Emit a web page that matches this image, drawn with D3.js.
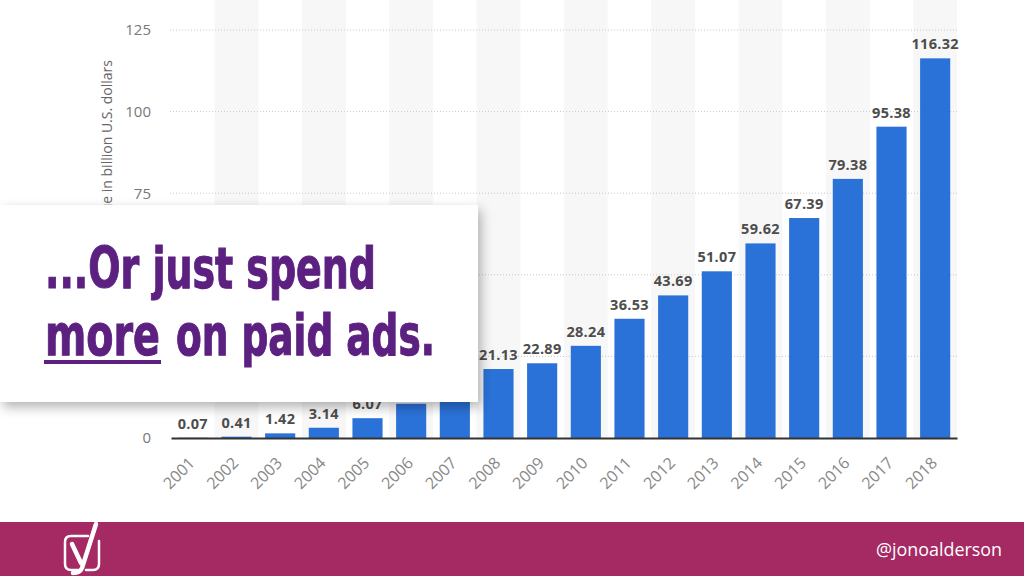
<!DOCTYPE html>
<html>
<head>
<meta charset="utf-8">
<script src="https://cdn.jsdelivr.net/npm/d3@7"></script>
<style>
  html, body { margin: 0; padding: 0; background: #fff; }
  svg { display: block; }
</style>
</head>
<body>
<div id="chart"></div>
<script>
// revenue per year, billion US dollars
var years = ["2001","2002","2003","2004","2005","2006","2007","2008","2009",
             "2010","2011","2012","2013","2014","2015","2016","2017","2018"];
var revenue = [0.07, 0.41, 1.42, 3.14, 6.07, 10.49, 16.41, 21.13, 22.89,
               28.24, 36.53, 43.69, 51.07, 59.62, 67.39, 79.38, 95.38, 116.32];
var yTicks = [0, 25, 50, 75, 100, 125];
var yTitle = "Revenue in billion U.S. dollars";
var headline1 = "...Or just spend";
var headline2a = "more";
var headline2b = "on paid ads.";
var handle = "@jonoalderson";

var width = 1024, height = 576,
    barColor = "#2a72d8", purple = "#5c2080", magenta = "#a52963";
// white card that sits over the left part of the chart
var card = {x: 0, y: 205, w: 478, h: 197};
function underCard(px, py) {
  return px < card.x + card.w && py > card.y && py < card.y + card.h;
}

var svg = d3.select("#chart").append("svg")
  .attr("width", width).attr("height", height);

var defs = svg.append("defs");
var f = defs.append("filter").attr("id", "shadow")
  .attr("x", "-10%").attr("y", "-10%").attr("width", "130%").attr("height", "140%");
f.append("feDropShadow").attr("dx", 3).attr("dy", 5)
  .attr("stdDeviation", 6).attr("flood-color", "#000").attr("flood-opacity", 0.3);
defs.append("clipPath").attr("id", "aboveCard")
  .append("rect").attr("x", 0).attr("y", 0).attr("width", width).attr("height", card.y);

var x = d3.scaleBand().domain(years).range([171, 957])
  .paddingInner(0.31).paddingOuter(0.155);
var y = d3.scaleLinear().domain([0, 125]).range([438, 30]);

// alternating column stripes
svg.append("g").selectAll("rect")
  .data(years.filter((d, i) => i % 2 === 1))
  .join("rect")
  .attr("x", d => x(d) - x.step() * x.paddingInner() / 2)
  .attr("width", x.step())
  .attr("y", 0)
  .attr("height", y(0))
  .attr("fill", "#f7f7f7");

// grid lines
svg.append("g").selectAll("line")
  .data(yTicks.filter(d => d > 0))
  .join("line")
  .attr("x1", 170).attr("x2", 958)
  .attr("y1", d => y(d)).attr("y2", d => y(d))
  .attr("stroke", "#c8c8c8")
  .attr("stroke-dasharray", "1,2");

// y axis labels (the ones behind the card are not drawn)
var yAxis = d3.axisLeft(y)
  .tickValues(yTicks.filter(d => !underCard(151, y(d))))
  .tickSize(0).tickPadding(0);
var gy = svg.append("g").attr("transform", "translate(151,0)").call(yAxis);
gy.select(".domain").remove();
gy.selectAll("text")
  .attr("font-family", "'Open Sans', sans-serif")
  .attr("font-size", 15)
  .attr("fill", "#777");

// axis title, only the part above the card shows
svg.append("g")
  .attr("clip-path", "url(#aboveCard)")
  .append("text")
  .attr("transform", "translate(112,60) rotate(-90)")
  .attr("text-anchor", "end")
  .attr("font-family", "'Open Sans', sans-serif")
  .attr("font-size", 14)
  .attr("fill", "#666")
  .text(yTitle);

// bars
svg.append("g").selectAll("rect")
  .data(revenue)
  .join("rect")
  .attr("x", (d, i) => x(years[i]))
  .attr("width", x.bandwidth())
  .attr("y", d => y(d))
  .attr("height", d => y(0) - y(d))
  .attr("fill", barColor);

// value labels
var labels = revenue.map((d, i) => ({v: d, cx: x(years[i]) + x.bandwidth() / 2, ty: y(d) - 9}))
  .filter(d => !underCard(d.cx + 20, d.ty));
svg.append("g").selectAll("text")
  .data(labels)
  .join("text")
  .attr("x", d => d.cx)
  .attr("y", d => d.ty)
  .attr("text-anchor", "middle")
  .attr("font-family", "'Open Sans', sans-serif")
  .attr("font-weight", "bold")
  .attr("font-size", 14.5)
  .attr("letter-spacing", 0.3)
  .attr("fill", "#4d4d4d")
  .text(d => d.v.toFixed(2));

// x axis
var xAxis = d3.axisBottom(x).tickSize(0).tickPadding(0);
var gx = svg.append("g").attr("transform", "translate(0," + y(0) + ")").call(xAxis);
gx.select(".domain").attr("stroke", "#333").attr("stroke-width", 2);
gx.selectAll("text")
  .attr("font-family", "'Open Sans', sans-serif")
  .attr("font-size", 16)
  .attr("fill", "#888")
  .attr("text-anchor", "end")
  .attr("dy", null)
  .attr("y", null)
  .attr("transform", "translate(3,26) rotate(-45)");

// overlay card
svg.append("rect")
  .attr("x", card.x).attr("y", card.y).attr("width", card.w).attr("height", card.h)
  .attr("fill", "#fff")
  .attr("filter", "url(#shadow)");

// condensed headline: smaller font stretched vertically
var headFont = "'DejaVu Sans Condensed', 'DejaVu Sans', sans-serif";
function headline(txt, x0, base, len) {
  svg.append("text")
    .attr("transform", "translate(0," + base + ") scale(1,1.32)")
    .attr("x", x0).attr("y", 0)
    .attr("font-family", headFont).attr("font-weight", "bold")
    .attr("font-size", 43).attr("fill", purple)
    .attr("stroke", purple).attr("stroke-width", 0.8)
    .attr("textLength", len).attr("lengthAdjust", "spacingAndGlyphs")
    .text(txt);
}
headline(headline1, 45, 288, 331);
headline(headline2a, 45, 355, 115);
headline(headline2b, 176, 355, 259);
svg.append("rect")
  .attr("x", 44).attr("y", 360).attr("width", 117).attr("height", 4)
  .attr("fill", purple);

// footer band
svg.append("rect")
  .attr("x", 0).attr("y", 522).attr("width", width).attr("height", height - 522)
  .attr("fill", magenta);

// yoast-ish logo
var logo = svg.append("g").attr("fill", "none").attr("stroke", "#fff")
  .attr("stroke-linecap", "round");
logo.append("path")
  .attr("d", "M88,536 H71 Q65,536 65,542 V564 Q65,570 71,570 H78 M99,541 V564 Q99,570 93,570 H86")
  .attr("stroke-width", 2.5);
logo.append("path")
  .attr("d", "M72,544 L81,563")
  .attr("stroke-width", 4.5);
logo.append("path")
  .attr("d", "M96,524 L82,568 Q80,573 73,573")
  .attr("stroke-width", 4.5);

svg.append("text")
  .attr("x", 1002).attr("y", 556)
  .attr("text-anchor", "end")
  .attr("font-family", "'Open Sans', sans-serif")
  .attr("font-size", 19)
  .attr("fill", "#fff")
  .attr("textLength", 126).attr("lengthAdjust", "spacingAndGlyphs")
  .text(handle);
</script>
</body>
</html>
